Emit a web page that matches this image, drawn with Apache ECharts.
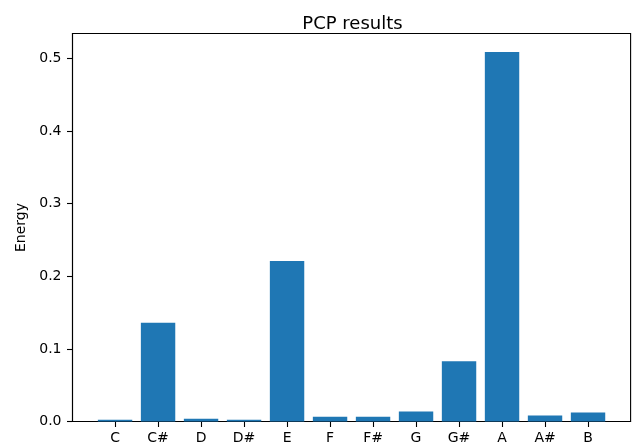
<!DOCTYPE html>
<html><head><meta charset="utf-8">
<script src="https://cdn.jsdelivr.net/npm/echarts@6/dist/echarts.min.js"></script>
<style>html,body{margin:0;padding:0;background:#fff}#c{width:633px;height:447px}</style>
</head><body><div id="c"></div>
<script>
const categories = ['C','C#','D','D#','E','F','F#','G','G#','A','A#','B'];
const energy = [0.0023, 0.136, 0.0037, 0.0023, 0.221, 0.0064, 0.0064, 0.0138, 0.083, 0.509, 0.0083, 0.0124];
const yTicks = [0, 0.1, 0.2, 0.3, 0.4, 0.5];

const chart = echarts.init(document.getElementById('c'));
const font = 'DejaVu Sans';
chart.setOption({
  animation: false,
  title: {
    text: 'PCP results', left: 347.5, top: 10, textAlign: 'center',
    textStyle: { fontFamily: font, fontSize: 18, fontWeight: 'normal', color: '#000' }
  },
  grid: { left: 72.5, right: 2.4, top: 33.5, bottom: 25.5, show: true, borderColor: '#000', borderWidth: 1.1, backgroundColor: 'transparent' },
  xAxis: {
    type: 'value', min: -0.99, max: 11.99,
    axisLine: { show: true, onZero: false, lineStyle: { color: '#000', width: 1.1 } },
    axisTick: { show: true, length: 5.5, lineStyle: { color: '#000', width: 1.1 }, customValues: categories.map((c, i) => i) },
    axisLabel: { margin: 10, color: '#000', fontFamily: font, fontSize: 14, customValues: categories.map((c, i) => i),
      formatter: v => categories[Math.round(v)] },
    splitLine: { show: false }
  },
  yAxis: {
    type: 'value', min: 0, max: 0.5345,
    name: 'Energy', nameLocation: 'middle', nameRotate: 90, nameGap: 42,
    nameTextStyle: { fontFamily: font, fontSize: 14, color: '#000' },
    axisLine: { show: true, onZero: false, lineStyle: { color: '#000', width: 1.1 } },
    axisTick: { show: true, length: 5.5, lineStyle: { color: '#000', width: 1.1 }, customValues: yTicks },
    axisLabel: { margin: 11, color: '#000', fontFamily: font, fontSize: 14, customValues: yTicks,
      formatter: v => v.toFixed(1) },
    splitLine: { show: false }
  },
  series: [{
    type: 'bar',
    data: energy.map((v, i) => [i, v]),
    barWidth: 34.4,
    itemStyle: { color: '#1f77b4' }
  }]
});
</script></body></html>
